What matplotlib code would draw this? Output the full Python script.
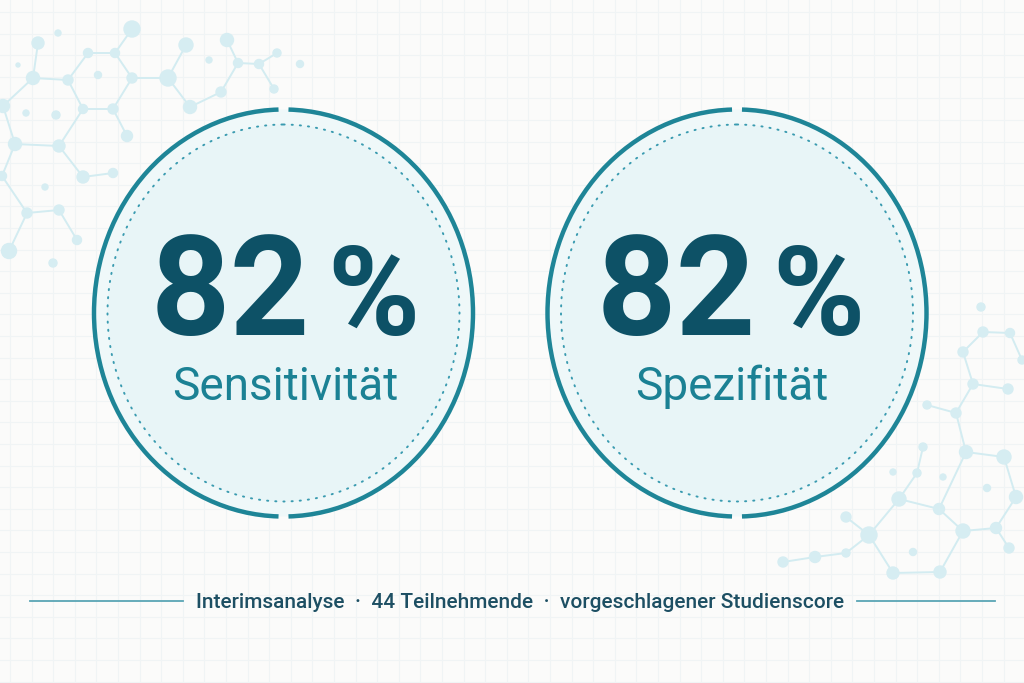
import numpy as np
import matplotlib.pyplot as plt
from matplotlib.patches import Arc, Ellipse

# values shown in the two rings
metric_values = [82, 82]
metric_labels = ["Sensitivität", "Spezifität"]
footer_text = "Interimsanalyse  ·  44 Teilnehmende  ·  vorgeschlagener Studienscore"

# decorative molecule network (pixel coords)
left_nodes = [(132, 29, 8), (38, 43, 6), (58, 33, 3), (88, 53, 4.5), (115, 53, 4.5),
              (186, 45, 7), (227, 40, 6.5), (209, 60, 3), (238, 63, 4.5), (259, 64, 4.5),
              (277, 53, 4), (300, 64, 3.5), (274, 89, 4), (221, 92, 5), (190, 107, 6.5),
              (168, 78, 8), (132, 78, 5), (98, 75, 3.5), (68, 80, 5), (33, 78, 6.5),
              (18, 65, 2), (3, 106, 6.5), (26, 113, 3), (56, 115, 4), (83, 109, 4.5),
              (113, 109, 5), (127, 136, 5.5), (15, 144, 6.5), (59, 146, 6), (2, 176, 4.5),
              (83, 177, 6), (113, 173, 4.5), (45, 187, 3), (27, 213, 5), (59, 210, 5),
              (77, 240, 4.5), (9, 251, 7.5), (53, 263, 4)]
left_edges = [(0, 4), (1, 19), (3, 4), (3, 18), (4, 16), (16, 15), (15, 5), (15, 14),
              (14, 13), (13, 8), (8, 6), (8, 9), (9, 10), (9, 12), (18, 19), (18, 24),
              (16, 25), (24, 25), (25, 26), (24, 28), (19, 21), (21, 27), (27, 28),
              (28, 30), (30, 31), (27, 29), (29, 33), (33, 34), (34, 35), (33, 36)]
right_nodes = [(981, 307, 4), (983, 332, 5), (1010, 333, 4.5), (963, 352, 5), (1022, 360, 4),
               (973, 384, 5), (1008, 389, 5), (927, 405, 4), (956, 413, 5), (923, 447, 4),
               (966, 452, 6.5), (1004, 457, 7), (893, 472, 3), (917, 473, 4), (943, 477, 3),
               (987, 488, 3.5), (899, 499, 7), (939, 509, 5.5), (1016, 497, 6.5), (846, 517, 5),
               (869, 535, 8), (963, 531, 7), (996, 528, 5.5), (1009, 548, 5), (913, 552, 3.5),
               (846, 553, 4), (815, 557, 5.5), (783, 562, 5), (893, 573, 6), (940, 572, 6)]
right_edges = [(1, 2), (1, 3), (3, 5), (5, 6), (5, 8), (2, 4), (8, 7), (8, 10), (10, 11),
               (10, 17), (9, 13), (13, 16), (11, 18), (18, 22), (16, 17), (17, 21), (21, 22),
               (22, 23), (16, 20), (19, 20), (20, 28), (28, 29), (29, 21), (25, 26), (26, 27),
               (25, 20)]

ring_color = "#1e8597"
number_color = "#0d5166"
label_color = "#1b8194"
footer_color = "#1d4f63"

fig = plt.figure(figsize=(10.24, 6.83), dpi=100)
fig.patch.set_facecolor("#fbfbfa")
ax = fig.add_axes([0, 0, 1, 1])
ax.set_xlim(0, 1024)
ax.set_ylim(683, 0)
ax.axis("off")

# faint grid
for gx in np.arange(10, 1024, 21.6):
    ax.axvline(gx, color="#f0f4f5", lw=0.8, zorder=0)
for gy in np.arange(12, 683, 21.6):
    ax.axhline(gy, color="#f0f4f5", lw=0.8, zorder=0)

# molecule decoration
for nodes, edges in [(left_nodes, left_edges), (right_nodes, right_edges)]:
    for a, b in edges:
        ax.plot([nodes[a][0], nodes[b][0]], [nodes[a][1], nodes[b][1]],
                color="#d3ecf1", lw=1.4, zorder=1)
    for x, y, r in nodes:
        ax.add_patch(Ellipse((x, y), 2 * r, 2 * r, color="#d6edf2", zorder=2))

centers = [(283.5, 313), (737, 313)]
num_right = [310, 756]
pct_left = [327, 772]
label_x = [285, 732]

for (cx, cy), val, lab, nr, pl, lx in zip(centers, metric_values, metric_labels,
                                          num_right, pct_left, label_x):
    ax.add_patch(Ellipse((cx, cy), 379, 407, facecolor="#eff8f9", edgecolor="none", zorder=3))
    ax.add_patch(Ellipse((cx, cy), 352, 377, facecolor="#e8f5f7", edgecolor="none", zorder=3))
    ax.add_patch(Ellipse((cx, cy), 352, 377, facecolor="none", edgecolor="#3a9bb0",
                         lw=1.4, linestyle=(0, (0.6, 3.6)), capstyle="round", zorder=4))
    gap = 1.4
    for t1, t2 in [(90 + gap, 270 - gap), (270 + gap, 450 - gap)]:
        ax.add_patch(Arc((cx, cy), 379, 407, theta1=t1, theta2=t2, color=ring_color,
                         lw=3.2, capstyle="butt", zorder=5))
    ax.text(nr, 335, str(val), ha="right", va="baseline", fontsize=100,
            fontfamily="Roboto", fontweight="bold", color=number_color, zorder=6)
    ax.text(pl, 335, "%", ha="left", va="baseline", fontsize=90,
            fontfamily="Roboto", fontweight="bold", color=number_color, zorder=6)
    ax.text(lx, 400, lab, ha="center", va="baseline", fontsize=33,
            fontfamily="Roboto", color=label_color, zorder=6)

# footer
ax.plot([30, 183], [601, 601], color="#5aa5b5", lw=1.3)
ax.plot([857, 995], [601, 601], color="#5aa5b5", lw=1.3)
ax.text(520, 608, footer_text, ha="center", va="baseline", fontsize=15,
        fontfamily="Roboto", fontweight="medium", color=footer_color)

fig.savefig("out.png", dpi=100, facecolor=fig.get_facecolor())
